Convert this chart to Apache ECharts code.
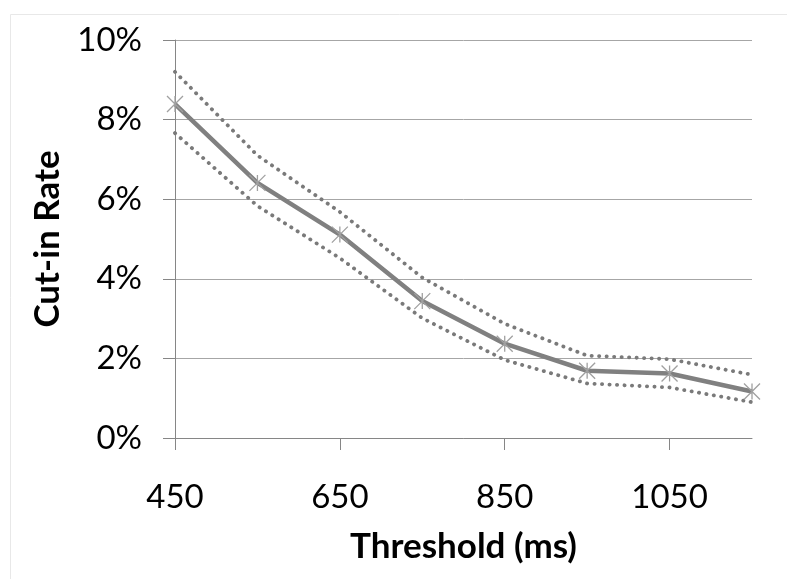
<!DOCTYPE html>
<html>
<head>
<meta charset="utf-8">
<script src="https://cdn.jsdelivr.net/npm/echarts@6/dist/echarts.min.js"></script>
<style>html,body{margin:0;padding:0;background:#fff}#c{width:787px;height:579px}</style>
</head>
<body>
<div id="c"></div>
<script>
var categories = ['450','550','650','750','850','950','1050','1150'];
var rate  = [8.39, 6.41, 5.11, 3.44, 2.37, 1.69, 1.62, 1.17];
var upper = [9.20, 7.10, 5.68, 4.03, 2.87, 2.07, 1.98, 1.59];
var lower = [7.66, 5.83, 4.52, 3.01, 1.96, 1.37, 1.27, 0.90];
var yTicks = [0, 2, 4, 6, 8, 10];

var chart = echarts.init(document.getElementById('c'), null, {renderer: 'canvas'});
var fontFam = 'Lato, "Open Sans", sans-serif';
var dotStyle = {color: '#7a7a7a', width: 3.8, type: [0.2, 7.3], cap: 'round'};
chart.setOption({
  animation: false,
  backgroundColor: '#ffffff',
  graphic: [{
    type: 'rect', left: 8, top: 12, silent: true,
    shape: {width: 820, height: 620},
    style: {fill: 'none', stroke: '#e8e8e8', lineWidth: 1}
  }],
  grid: {left: 175, right: 35, top: 40, bottom: 141, containLabel: false},
  xAxis: {
    type: 'category',
    data: categories,
    boundaryGap: false,
    name: 'Threshold (ms)',
    nameLocation: 'middle',
    nameGap: 91,
    nameTextStyle: {fontFamily: fontFam, fontSize: 35, fontWeight: 'bold', color: '#000'},
    axisLine: {lineStyle: {color: '#868686', width: 1}},
    axisTick: {show: true, interval: 1, length: 12, lineStyle: {color: '#868686'}},
    axisLabel: {interval: 1, margin: 43, fontFamily: fontFam, fontSize: 33, color: '#000'},
    splitLine: {show: false}
  },
  yAxis: {
    type: 'value',
    min: yTicks[0],
    max: yTicks[yTicks.length - 1],
    interval: 2,
    name: 'Cut-in Rate',
    nameLocation: 'middle',
    nameGap: 110,
    nameTextStyle: {fontFamily: fontFam, fontSize: 35, fontWeight: 'bold', color: '#000'},
    axisLine: {show: true, lineStyle: {color: '#868686', width: 1}},
    axisTick: {show: true, length: 12, lineStyle: {color: '#868686'}},
    axisLabel: {margin: 33, fontFamily: fontFam, fontSize: 33, color: '#000', formatter: '{value}%'},
    splitLine: {show: true, lineStyle: {color: '#a6a6a6', width: 1}}
  },
  series: [
    {
      type: 'line', data: upper, symbol: 'none', silent: true,
      lineStyle: dotStyle, z: 2
    },
    {
      type: 'line', data: lower, symbol: 'none', silent: true,
      lineStyle: dotStyle, z: 2
    },
    {
      type: 'line', data: rate, silent: true,
      symbol: 'path://M0,0L10,10M10,0L0,10M5,0L5,10',
      symbolSize: 16, symbolKeepAspect: true, showAllSymbol: true,
      itemStyle: {color: 'rgba(0,0,0,0)', borderColor: '#a0a0a0', borderWidth: 1.3},
      lineStyle: {color: '#808080', width: 4.5},
      z: 3
    }
  ]
});
</script>
</body>
</html>
